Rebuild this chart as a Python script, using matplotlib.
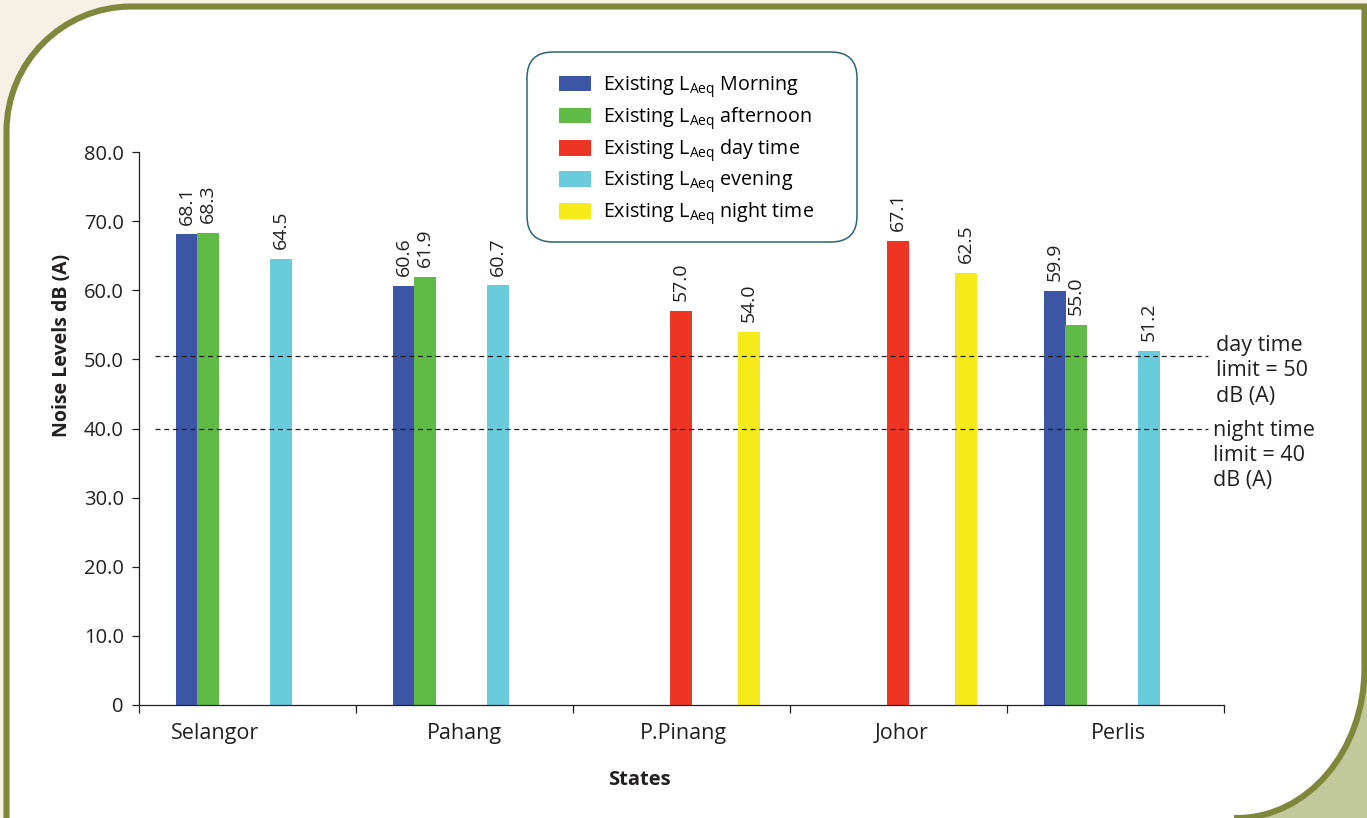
import matplotlib
matplotlib.use("Agg")
import matplotlib.pyplot as plt
import numpy as np
from matplotlib.path import Path
from matplotlib.patches import PathPatch, Rectangle, FancyBboxPatch
from matplotlib.ticker import FuncFormatter

plt.rcParams['font.family'] = ['Open Sans', 'DejaVu Sans']
plt.rcParams['mathtext.fontset'] = 'custom'
plt.rcParams['mathtext.rm'] = 'Open Sans'
plt.rcParams['mathtext.it'] = 'Open Sans:italic'
plt.rcParams['mathtext.bf'] = 'Open Sans:bold'

# data
states = ["Selangor", "Pahang", "P.Pinang", "Johor", "Perlis"]
morning = [68.1, 60.6, None, None, 59.9]
afternoon = [68.3, 61.9, None, None, 55.0]
day_time = [None, None, 57.0, 67.1, None]
evening = [64.5, 60.7, None, None, 51.2]
night_time = [None, None, 54.0, 62.5, None]
series_names = ["Morning", "afternoon", "day time", "evening", "night time"]
limits = [50.5, 40.0]
limit_texts = ["day time\nlimit = 50\ndB (A)", "night time\nlimit = 40\ndB (A)"]

# styles / layout
colors = ["#3d55a5", "#5fba46", "#ee3524", "#6acbdd", "#f6eb1a"]
offsets = [0.221, 0.318, 0.498, 0.654, 0.811]
bar_width = 0.101
label_pos = [0.35, 1.50, 2.507, 3.516, 4.512]
olive = "#7f873d"
cream = "#f5f2e5"
sage = "#c1c99a"
ink = "#231f20"

fig = plt.figure(figsize=(13.67, 8.18), dpi=100)

# decorative frame
bg = fig.add_axes([0, 0, 1, 1], zorder=-10)
bg.set_xlim(0, 1367)
bg.set_ylim(818, 0)
bg.axis("off")
bg.add_patch(Rectangle((0, 0), 1367, 818, color=cream))
bg.add_patch(Rectangle((1150, 550), 300, 300, color=sage))
k = 0.5523
t = 6.5
r = 125
right = 1364.5
cx, cy, rx, ry = 1237, 668, right - 1237, 150
verts = [(right, t), (t + r, t),
         (t + r - r * k, t), (t, t + r - r * k), (t, t + r),
         (t, 860), (cx, 860), (cx, 818),
         (cx + rx * k, 818), (right, cy + ry * k), (right, cy),
         (right, t), (right, t)]
codes = [Path.MOVETO, Path.LINETO,
         Path.CURVE4, Path.CURVE4, Path.CURVE4,
         Path.LINETO, Path.LINETO, Path.LINETO,
         Path.CURVE4, Path.CURVE4, Path.CURVE4,
         Path.LINETO, Path.CLOSEPOLY]
bg.add_patch(PathPatch(Path(verts, codes), facecolor="white", edgecolor=olive, linewidth=4.4))
bg.add_patch(FancyBboxPatch((527, 52), 330, 190, boxstyle="round,pad=0,rounding_size=26",
                            facecolor="white", edgecolor="#2b6478", linewidth=1.1))

# chart
ax = fig.add_axes([139 / 1367, 113 / 818, 1085 / 1367, 553 / 818])
ax.set_facecolor("none")
ax.set_xlim(0, 5)
ax.set_ylim(0, 80)
for side in ["top", "right"]:
    ax.spines[side].set_visible(False)
for side in ["left", "bottom"]:
    ax.spines[side].set_color(ink)
    ax.spines[side].set_linewidth(0.9)

x = np.arange(len(states))
handles = []
for vals, off, col in zip([morning, afternoon, day_time, evening, night_time], offsets, colors):
    idx = [i for i, v in enumerate(vals) if v is not None]
    heights = [vals[i] for i in idx]
    bars = ax.bar(x[idx] + off, heights, width=bar_width, color=col, zorder=2)
    ax.bar_label(bars, labels=[f"{v:.1f}" for v in heights], rotation=90,
                 padding=7, fontsize=14, color=ink)
    handles.append(bars)

ax.hlines(limits, 0.074, 4.926, colors=ink, linestyles=(0, (4, 3)), linewidth=0.9, zorder=3)
for txt, ytop, xa in zip(limit_texts, [53.5, 41.3], [0.9926, 0.990]):
    ax.text(xa, ytop, txt, transform=ax.get_yaxis_transform(), ha="left", va="top",
            fontsize=15.5, linespacing=1.26, color=ink, clip_on=False)

ax.set_yticks(np.arange(0, 81, 10))
ax.yaxis.set_major_formatter(FuncFormatter(lambda v, p: "0" if v == 0 else f"{v:.1f}"))
ax.tick_params(axis="y", length=5, width=0.9, pad=6, labelsize=14.5, colors=ink)
ax.set_xticks(range(6))
ax.set_xticklabels([])
ax.tick_params(axis="x", which="major", length=6, width=0.9, color=ink)
ax.set_xticks(label_pos, states, minor=True)
ax.tick_params(axis="x", which="minor", length=0, pad=13, labelsize=15.5, labelcolor=ink)

ax.set_ylabel("Noise Levels dB (A)", fontsize=14, fontweight="bold", color=ink)
ax.yaxis.label.set_va("center")
ax.yaxis.set_label_coords(-0.071, 0.651)
ax.set_xlabel("States", fontsize=14.5, fontweight="bold", color=ink)
ax.xaxis.set_label_coords(0.4608, -0.1175)

legend_labels = [r"Existing L$_{\mathrm{Aeq}}$ " + n for n in series_names]
ax.legend(handles, legend_labels, loc="upper left", bbox_to_anchor=(559 / 1367, 1 - 74 / 818),
          bbox_transform=fig.transFigure, frameon=False, fontsize=14.2,
          handlelength=1.6, handleheight=0.82, handletextpad=0.65,
          labelspacing=0.27, borderpad=0, borderaxespad=0)

fig.savefig("out.png", dpi=100)
